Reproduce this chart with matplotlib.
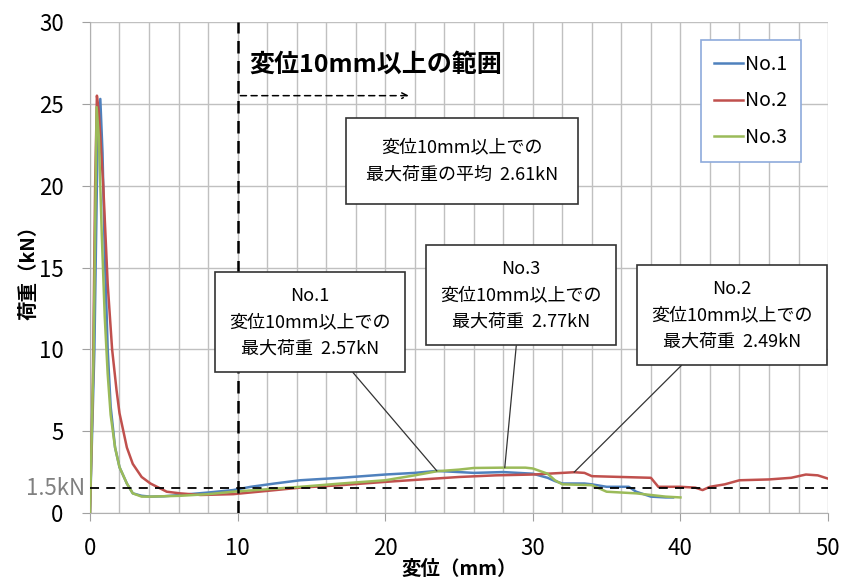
import matplotlib.pyplot as plt
import numpy as np

plt.rcParams['font.family'] = ['Noto Sans CJK JP', 'DejaVu Sans']

# load-displacement curves
x_no1 = [0, 0.3, 0.5, 0.7, 0.85, 1.0, 1.2, 1.4, 1.7, 2.0, 2.5, 2.9, 3.5, 4.1, 5.0, 6.1, 8.0,
         9.7, 10.9, 12.5, 14.25, 17.0, 20.0, 22.0, 23.5, 25.0, 26.0, 28.0, 29.0, 30.0, 31.0,
         31.5, 32.0, 33.5, 34.0, 35.0, 36.5, 37.0, 38.0, 39.0, 39.5]
y_no1 = [0, 10.0, 22.0, 25.3, 22.0, 16.0, 10.0, 6.5, 4.0, 2.8, 1.8, 1.2, 1.05, 1.0, 1.02, 1.1,
         1.25, 1.4, 1.6, 1.8, 2.0, 2.15, 2.35, 2.45, 2.57, 2.5, 2.45, 2.5, 2.45, 2.4, 2.15,
         1.95, 1.8, 1.8, 1.75, 1.6, 1.6, 1.3, 1.0, 0.95, 0.95]

x_no2 = [0, 0.2, 0.35, 0.47, 0.6, 0.9, 1.2, 1.5, 1.8, 2.0, 2.5, 2.9, 3.5, 4.1, 5.2, 6.1, 7.5,
         9.7, 12.0, 14.25, 17.0, 20.0, 22.5, 25.0, 27.5, 30.0, 31.0, 32.0, 32.8, 33.5, 34.0,
         36.0, 38.0, 38.5, 40.0, 41.0, 41.5, 42.0, 43.0, 44.0, 46.0, 47.5, 48.5, 49.3, 50.0]
y_no2 = [0, 8.0, 20.0, 25.5, 24.5, 20.0, 14.0, 10.0, 7.5, 6.1, 4.0, 3.0, 2.2, 1.8, 1.3, 1.2,
         1.1, 1.15, 1.35, 1.55, 1.7, 1.9, 2.05, 2.2, 2.3, 2.35, 2.4, 2.45, 2.49, 2.45, 2.25,
         2.2, 2.15, 1.6, 1.6, 1.55, 1.4, 1.6, 1.75, 2.0, 2.05, 2.15, 2.35, 2.3, 2.1]

x_no3 = [0, 0.25, 0.45, 0.6, 0.8, 1.0, 1.2, 1.4, 1.7, 2.0, 2.5, 2.9, 3.5, 4.1, 6.1, 8.0, 9.7,
         12.0, 14.25, 17.0, 20.0, 22.0, 23.5, 25.0, 26.0, 28.0, 29.5, 30.0, 31.0, 31.5, 32.0,
         34.0, 35.0, 37.0, 38.0, 39.0, 40.0]
y_no3 = [0, 10.0, 24.8, 23.0, 17.0, 12.0, 8.5, 6.0, 4.0, 2.8, 1.8, 1.2, 1.0, 1.0, 1.05, 1.15,
         1.3, 1.45, 1.6, 1.8, 2.0, 2.3, 2.55, 2.65, 2.75, 2.77, 2.77, 2.72, 2.4, 2.0, 1.75,
         1.7, 1.3, 1.2, 1.1, 1.0, 0.95]

labels = ['No.1', 'No.2', 'No.3']
colors = ['#4f81bd', '#c0504d', '#9bbb59']

# max load above 10 mm: (label, x at max, max load)
peaks = [('No.1', 23.5, 2.57), ('No.3', 28.1, 2.77), ('No.2', 32.8, 2.49)]
avg_peak = 2.61
threshold = 1.5
x_limit = 10

fig = plt.figure(figsize=(8.44, 5.84), dpi=100)
ax = fig.add_axes([0.1066, 0.1216, 0.8745, 0.8407])

for xs, ys, lab, c in zip([x_no1, x_no2, x_no3], [y_no1, y_no2, y_no3], labels, colors):
    ax.plot(xs, ys, color=c, lw=1.8, label=lab, zorder=3)

ax.set_xlim(0, 50)
ax.set_ylim(0, 30)
ax.set_xticks(np.arange(0, 51, 10))
ax.set_xticks(np.arange(0, 51, 2), minor=True)
ax.set_yticks(np.arange(0, 31, 5))
ax.grid(which='both', color='#c0c0c0', lw=1, zorder=0)
ax.tick_params(axis='both', which='major', length=6, color='#a0a0a0', labelsize=16)
ax.tick_params(axis='x', which='major', pad=11)
ax.tick_params(axis='y', which='major', pad=13)
ax.tick_params(axis='x', which='minor', length=0)
for s in ['top', 'right']:
    ax.spines[s].set_visible(False)
for s in ['left', 'bottom']:
    ax.spines[s].set_color('#b0b0b0')

ax.set_xlabel('変位（mm）', fontsize=14, fontweight='bold', labelpad=0)
ax.set_ylabel('荷重（kN）', fontsize=14, fontweight='bold', labelpad=0)

# reference lines
ax.axhline(threshold, color='black', ls=(0, (5, 4)), lw=1.3, zorder=4)
ax.axvline(x_limit, color='black', ls=(0, (5, 3)), lw=1.8, zorder=4)
ax.text(-0.007, threshold, f'{threshold}kN', color='#808080', fontsize=16,
        ha='right', va='center', transform=ax.get_yaxis_transform(), clip_on=False)

ax.text(x_limit + 0.8, 27.4, '変位10mm以上の範囲', fontsize=18, fontweight='bold',
        ha='left', va='center')
ax.annotate('', xy=(21.8, 25.5), xytext=(x_limit, 25.5),
            arrowprops=dict(arrowstyle='->', ls=(0, (4, 3)), lw=1.1, color='black'))

box = dict(boxstyle='square,pad=1.1', fc='white', ec='#333333', lw=1.2)
ax.text(25.2, 21.5, f'変位10mm以上での\n最大荷重の平均  {avg_peak}kN', fontsize=13,
        ha='center', va='center', linespacing=1.7, bbox=box, zorder=5)

box_pos = {'No.1': (14.9, 11.67), 'No.3': (29.2, 13.3), 'No.2': (43.5, 12.1)}
for lab, px, py in peaks:
    bx, by = box_pos[lab]
    ax.annotate(f'{lab}\n変位10mm以上での\n最大荷重  {py}kN', xy=(px, py), xytext=(bx, by),
                fontsize=13, ha='center', va='center', linespacing=1.6,
                bbox=dict(boxstyle='square,pad=0.8', fc='white', ec='#333333', lw=1.2),
                arrowprops=dict(arrowstyle='-', color='#333333', lw=0.9,
                                shrinkA=0, shrinkB=0),
                zorder=5)

leg = ax.legend(loc='upper right', bbox_to_anchor=(0.9634, 0.963), borderaxespad=0,
                fontsize=14, handlelength=1.5, handletextpad=0.1, labelspacing=0.8,
                borderpad=0.7, fancybox=False, framealpha=1)
leg.get_frame().set_edgecolor('#8eaadb')
leg.get_frame().set_linewidth(1.2)
leg.set_zorder(6)

fig.savefig('out.png', dpi=100)
